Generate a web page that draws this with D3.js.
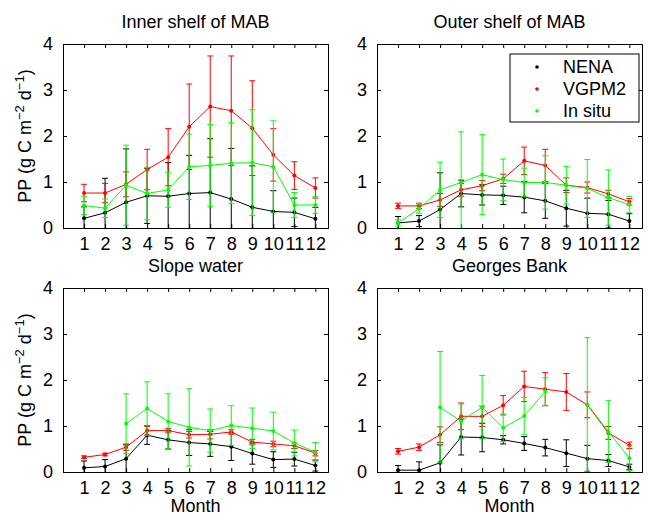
<!DOCTYPE html>
<html>
<head>
<meta charset="utf-8">
<script src="https://cdn.jsdelivr.net/npm/d3@7"></script>
<style>
  body { margin: 0; background: #fff; }
  text { font-family: "Liberation Sans", Arial, Helvetica, sans-serif; }
</style>
</head>
<body>
<div id="my_dataviz"></div>
<script>
// months and tick labels
let months = [1, 2, 3, 4, 5, 6, 7, 8, 9, 10, 11, 12];
let yTicks = [0, 1, 2, 3, 4];
let seriesNames = ["NENA", "VGPM2", "In situ"];
let seriesColors = ["#000000", "#ff0000", "#00ff00"];

// Inner shelf of MAB
let innerNena = [0.21, 0.33, 0.56, 0.70, 0.69, 0.75, 0.77, 0.63, 0.45, 0.36, 0.34, 0.20];
let innerNenaErr = [0.25, 0.75, 1.16, 0.60, 0.73, 0.83, 1.17, 1.10, 0.90, 0.45, 0.31, 0.25];
let innerVgpm = [0.76, 0.76, 0.95, 1.27, 1.54, 2.20, 2.64, 2.55, 2.17, 1.59, 1.14, 0.87];
let innerVgpmErr = [0.19, 0.21, 0.27, 0.44, 0.62, 0.93, 1.10, 1.19, 1.03, 0.57, 0.30, 0.22];
let innerInsitu = [0.49, 0.43, 0.93, 0.75, 0.83, 1.33, 1.36, 1.41, 1.42, 1.33, 0.50, 0.50];
let innerInsituErr = [0.20, 0.20, 0.87, 0.57, 0.38, 0.71, 0.89, 0.88, 1.15, 1.00, 0.27, 0.18];

// Outer shelf of MAB
let outerNena = [0.11, 0.15, 0.40, 0.75, 0.72, 0.71, 0.67, 0.59, 0.43, 0.32, 0.30, 0.15];
let outerNenaErr = [0.14, 0.12, 0.80, 0.29, 0.22, 0.20, 0.34, 0.38, 0.39, 0.33, 0.30, 0.16];
let outerVgpm = [0.48, 0.48, 0.61, 0.83, 0.92, 1.07, 1.46, 1.36, 0.93, 0.88, 0.74, 0.57];
let outerVgpmErr = [0.06, 0.06, 0.14, 0.14, 0.11, 0.10, 0.30, 0.35, 0.16, 0.12, 0.08, 0.07];
let outerInsitu = [0.11, 0.42, 0.83, 0.99, 1.16, 1.05, 0.99, 0.99, 0.93, 0.86, 0.66, 0.51];
let outerInsituErr = [0.07, 0.10, 0.60, 1.10, 0.87, 0.45, 0.31, 0.58, 0.41, 0.63, 0.60, 0.18];

// Slope water
let slopeNena = [0.09, 0.12, 0.29, 0.80, 0.70, 0.64, 0.61, 0.55, 0.40, 0.27, 0.28, 0.14];
let slopeNenaErr = [0.15, 0.15, 0.30, 0.20, 0.20, 0.28, 0.27, 0.30, 0.23, 0.17, 0.15, 0.12];
let slopeVgpm = [0.32, 0.38, 0.54, 0.90, 0.90, 0.81, 0.82, 0.87, 0.65, 0.61, 0.57, 0.41];
let slopeVgpmErr = [0.03, 0.03, 0.07, 0.10, 0.05, 0.07, 0.10, 0.05, 0.06, 0.06, 0.06, 0.06];
let slopeInsitu = [null, null, 1.05, 1.38, 1.10, 0.97, 0.90, 1.01, 0.95, 0.89, 0.63, 0.43];
let slopeInsituErr = [null, null, 0.65, 0.58, 0.60, 0.84, 0.47, 0.43, 0.44, 0.41, 0.28, 0.21];

// Georges Bank
let georgesNena = [0.04, 0.04, 0.20, 0.76, 0.75, 0.70, 0.62, 0.53, 0.41, 0.29, 0.25, 0.11];
let georgesNenaErr = [0.10, 0.18, 0.39, 0.39, 0.31, 0.09, 0.15, 0.18, 0.29, 0.29, 0.13, 0.06];
let georgesVgpm = [0.45, 0.54, 0.81, 1.21, 1.21, 1.45, 1.86, 1.80, 1.74, 1.46, 0.85, 0.58];
let georgesVgpmErr = [0.06, 0.07, 0.17, 0.29, 0.22, 0.21, 0.33, 0.36, 0.40, 0.28, 0.14, 0.07];
let georgesInsitu = [null, null, 1.41, 1.10, 1.41, 0.96, 1.22, 1.75, null, 1.47, 0.88, 0.30];
let georgesInsituErr = [null, null, 1.21, 0.38, 0.69, 0.30, 0.40, 0.30, null, 1.45, 0.67, 0.27];

let panels = [
  {title: "Inner shelf of MAB", left: 63, top: 44, xlabel: false, ylabel: true,
   series: [[innerNena, innerNenaErr], [innerVgpm, innerVgpmErr], [innerInsitu, innerInsituErr]]},
  {title: "Outer shelf of MAB", left: 377, top: 44, xlabel: false, ylabel: false, legend: true,
   series: [[outerNena, outerNenaErr], [outerVgpm, outerVgpmErr], [outerInsitu, outerInsituErr]]},
  {title: "Slope water", left: 63, top: 288, xlabel: true, ylabel: true,
   series: [[slopeNena, slopeNenaErr], [slopeVgpm, slopeVgpmErr], [slopeInsitu, slopeInsituErr]]},
  {title: "Georges Bank", left: 377, top: 288, xlabel: true, ylabel: false,
   series: [[georgesNena, georgesNenaErr], [georgesVgpm, georgesVgpmErr], [georgesInsitu, georgesInsituErr]]}
];

let width = 265, height = 184;

let svg = d3.select("#my_dataviz")
  .append("svg")
    .attr("width", 649)
    .attr("height", 523);

let x = d3.scaleLinear().domain([0, 12.6]).range([0, width]);
let y = d3.scaleLinear().domain([0, 4]).range([height, 0]);

panels.forEach(function (p, i) {
  let g = svg.append("g")
    .attr("transform", "translate(" + p.left + "," + p.top + ")");

  // clip so the error bars stay inside the box
  svg.append("clipPath")
    .attr("id", "clip" + i)
    .append("rect")
      .attr("x", p.left).attr("y", p.top)
      .attr("width", width).attr("height", height);

  // title (sits above the axes)
  g.append("text")
    .attr("x", width / 2)
    .attr("y", -16)
    .attr("text-anchor", "middle")
    .style("font-size", "18px")
    .text(p.title);

  // bottom axis with labels, inward ticks
  g.append("g")
    .attr("transform", "translate(0," + height + ")")
    .call(d3.axisBottom(x).tickValues(months).tickSize(-4).tickPadding(9))
    .call(styleAxis);

  g.append("g")
    .call(d3.axisTop(x).tickValues(months).tickSize(-4).tickFormat(""))
    .call(styleAxis);

  g.append("g")
    .call(d3.axisLeft(y).tickValues(yTicks).tickSize(-4).tickPadding(10).tickFormat(d3.format("d")))
    .call(styleAxis);

  g.append("g")
    .attr("transform", "translate(" + width + ",0)")
    .call(d3.axisRight(y).tickValues(yTicks).tickSize(-4).tickFormat(""))
    .call(styleAxis);

  if (p.xlabel) {
    g.append("text")
      .attr("x", width / 2)
      .attr("y", height + 40)
      .attr("text-anchor", "middle")
      .style("font-size", "18px")
      .text("Month");
  }

  if (p.ylabel) {
    let yl = g.append("text")
      .attr("transform", "translate(-32," + (height / 2) + ") rotate(-90)")
      .attr("text-anchor", "middle")
      .style("font-size", "18px");
    yl.append("tspan").text("PP (g C m");
    yl.append("tspan").attr("dy", -7).style("font-size", "13px").text("\u22122");
    yl.append("tspan").attr("dy", 7).text(" d");
    yl.append("tspan").attr("dy", -7).style("font-size", "13px").text("\u22121");
    yl.append("tspan").attr("dy", 7).text(")");
  }

  let plot = svg.append("g")
    .attr("clip-path", "url(#clip" + i + ")")
    .append("g")
    .attr("transform", "translate(" + p.left + "," + p.top + ")");

  p.series.forEach(function (s, k) {
    let pts = months.map(function (m, j) { return {m: m, v: s[0][j], e: s[1][j]}; });
    let col = seriesColors[k];
    let valid = pts.filter(function (d) { return d.v != null; });

    // error bars
    let eb = plot.append("g").attr("stroke", col).attr("stroke-width", 1);
    eb.selectAll("line.v")
      .data(valid)
      .enter()
      .append("line")
        .attr("x1", function (d) { return x(d.m); })
        .attr("x2", function (d) { return x(d.m); })
        .attr("y1", function (d) { return y(d.v - d.e); })
        .attr("y2", function (d) { return y(d.v + d.e); });
    eb.selectAll("line.top")
      .data(valid)
      .enter()
      .append("line")
        .attr("x1", function (d) { return x(d.m) - 3; })
        .attr("x2", function (d) { return x(d.m) + 3; })
        .attr("y1", function (d) { return y(d.v + d.e); })
        .attr("y2", function (d) { return y(d.v + d.e); });
    eb.selectAll("line.bot")
      .data(valid)
      .enter()
      .append("line")
        .attr("x1", function (d) { return x(d.m) - 3; })
        .attr("x2", function (d) { return x(d.m) + 3; })
        .attr("y1", function (d) { return y(d.v - d.e); })
        .attr("y2", function (d) { return y(d.v - d.e); });

    // line, broken where values are missing
    plot.append("path")
      .datum(pts)
      .attr("fill", "none")
      .attr("stroke", col)
      .attr("stroke-width", 1)
      .attr("d", d3.line()
        .defined(function (d) { return d.v != null; })
        .x(function (d) { return x(d.m); })
        .y(function (d) { return y(d.v); }));

    plot.append("g")
      .selectAll("circle")
      .data(valid)
      .enter()
      .append("circle")
        .attr("cx", function (d) { return x(d.m); })
        .attr("cy", function (d) { return y(d.v); })
        .attr("r", 2)
        .attr("fill", col);
  });

  if (p.legend) {
    let lg = g.append("g").attr("transform", "translate(133,10)");
    lg.append("rect")
      .attr("width", 129).attr("height", 68)
      .attr("fill", "#fff").attr("stroke", "#000").attr("stroke-width", 1);
    seriesNames.forEach(function (n, k) {
      lg.append("circle")
        .attr("cx", 27).attr("cy", 13 + k * 22)
        .attr("r", 1.8).attr("fill", seriesColors[k]);
      lg.append("text")
        .attr("x", 53).attr("y", 13 + k * 22)
        .attr("dy", "0.35em")
        .style("font-size", "18px")
        .text(n);
    });
  }
});

function styleAxis(sel) {
  sel.select(".domain").attr("stroke", "#000").attr("stroke-width", 1);
  sel.selectAll(".tick line").attr("stroke", "#000");
  sel.selectAll(".tick text")
    .attr("fill", "#000")
    .style("font-size", "18px")
    .style("font-family", "'Liberation Sans', Arial, Helvetica, sans-serif");
}
</script>
</body>
</html>
